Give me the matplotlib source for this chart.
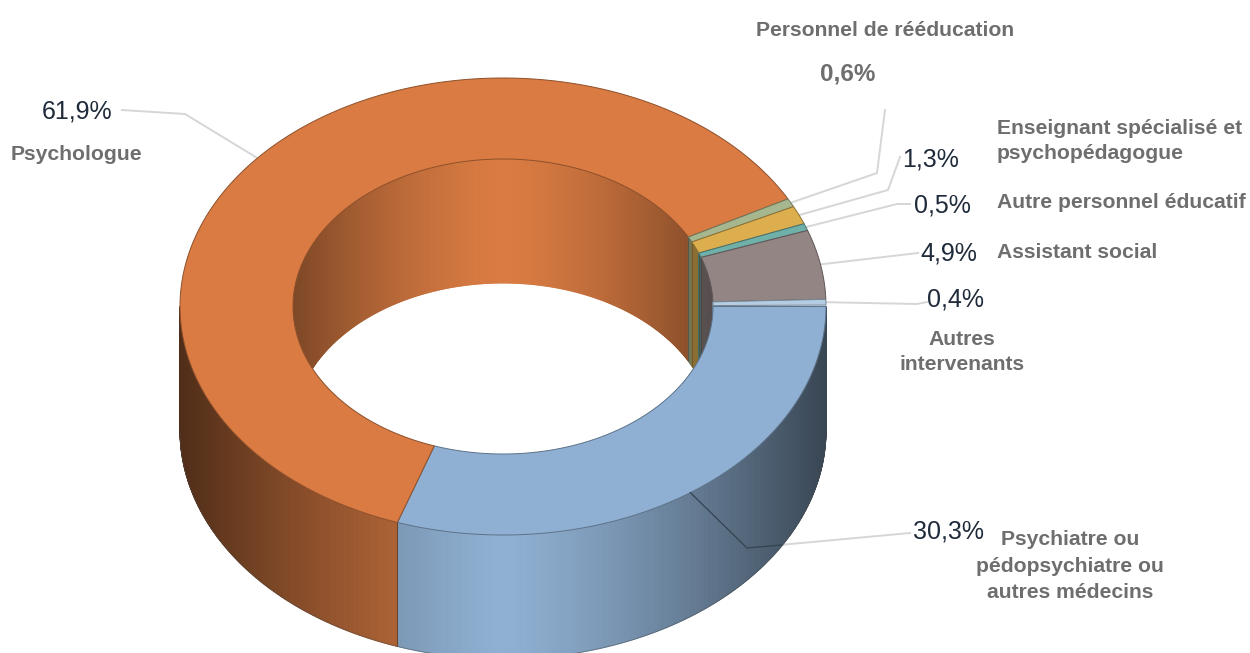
import numpy as np
import matplotlib
matplotlib.use('Agg')
import matplotlib.pyplot as plt
from matplotlib.collections import PolyCollection

# parts du donut, dans le sens horaire depuis 3 h
categories = ['Psychiatre ou\npédopsychiatre ou\nautres médecins', 'Psychologue',
              'Personnel de rééducation', 'Enseignant spécialisé et\npsychopédagogue',
              'Autre personnel éducatif', 'Assistant social', 'Autres\nintervenants']
values = [30.3, 61.9, 0.6, 1.3, 0.5, 4.9, 0.4]
value_labels = ['30,3%', '61,9%', '0,6%', '1,3%', '0,5%', '4,9%', '0,4%']
colors = ['#8fb0d2', '#d97b42', '#a6b78f', '#dcae4e', '#6fb0a8', '#928584', '#b4cde2']

# geometrie de l'ellipse, en pixels
CX, CY = 503, 306.5
RX, RY = 323, 228.5
IRX, IRY = 210, 147.5
DEPTH = 124

fig = plt.figure(figsize=(12.5, 6.53), dpi=100)
ax = fig.add_axes([0, 0, 1, 1])
ax.set_xlim(0, 1250)
ax.set_ylim(653, 0)
ax.axis('off')
plt.rcParams['font.family'] = ['Liberation Sans', 'DejaVu Sans']

# angles de chaque part (negatifs = sens horaire)
edges = -np.cumsum([0] + values) * 3.6
mids = (edges[:-1] + edges[1:]) / 2


def point(angle, rx, ry):
    t = np.radians(angle)
    return CX + rx * np.cos(t), CY - ry * np.sin(t)


def shade(hex_color, factor):
    return np.clip(np.array(matplotlib.colors.to_rgb(hex_color)) * factor, 0, 1)


def wall(a0, a1, rx, ry, color, power, amount, gain=1.0, z=2):
    # paroi dessinee en fines bandes verticales pour le degrade
    if a1 <= a0:
        return
    n = max(2, int((a1 - a0) * 3))
    angles = np.linspace(a0, a1, n + 1)
    x, y = point(angles, rx, ry)
    quads, cols = [], []
    for i in range(n):
        quads.append([(x[i], y[i]), (x[i + 1], y[i + 1]),
                      (x[i + 1], y[i + 1] + DEPTH), (x[i], y[i] + DEPTH)])
        d = abs((x[i] + x[i + 1]) / 2 - CX) / rx
        cols.append(shade(color, gain * (1 - amount * d ** power)))
    ax.add_collection(PolyCollection(quads, facecolors=cols, edgecolors=cols,
                                     linewidths=0.7, zorder=z))
    for ang in (a0, a1):
        px, py = point(ang, rx, ry)
        if 1 < ang % 360 < 359 and abs(ang % 360 - 180) > 1:
            ax.plot([px, px], [py, py + DEPTH], color=shade(color, 0.5), lw=0.6, zorder=z + 0.1)


# lignes de rappel grises : coude puis position de l'etiquette
LEADER = '#d6d6d6'
leader_paths = {
    1: [(185, 114), (122, 110)],
    2: [(877, 173), (885, 110)],
    3: [(888, 190), (900, 157)],
    4: [(897, 204), (910, 204)],
    5: [(918, 253)],
    6: [(917, 304), (927, 302)],
}
for i, path in leader_paths.items():
    pts = [point(mids[i], RX, RY)] + path
    ax.plot(*zip(*pts), color=LEADER, lw=1.4, zorder=1, solid_joinstyle='miter')

# parois interieures (moitie haute du trou)
for i in range(len(values)):
    lo, hi = edges[i + 1], edges[i]
    # on ramene la part dans 0..180
    for shift in (0, 360):
        a0, a1 = max(lo + shift, 0), min(hi + shift, 180)
        wall(a0, a1, IRX, IRY, colors[i], 1.5, 0.42, z=2)

# parois exterieures (moitie basse)
for i in range(len(values)):
    lo, hi = edges[i + 1], edges[i]
    for shift in (0, 360):
        a0, a1 = max(lo + shift, 180), min(hi + shift, 360)
        wall(a0, a1, RX, RY, colors[i], 1.3, 0.6, gain=0.92 if i == 1 else 1.0, z=3)

# contour de la paroi exterieure
t = np.linspace(180, 360, 200)
ox, oy = point(t, RX, RY)
ax.plot(ox, oy + DEPTH, color='#4a4a4a', lw=0.6, alpha=0.5, zorder=3.5)

# faces du dessus
for i in range(len(values)):
    a = np.linspace(edges[i], edges[i + 1], max(3, int(abs(edges[i] - edges[i + 1]) * 2)))
    xo, yo = point(a, RX, RY)
    xi, yi = point(a[::-1], IRX, IRY)
    ax.fill(np.r_[xo, xi], np.r_[yo, yi], facecolor=colors[i],
            edgecolor=shade(colors[i], 0.65), lw=0.7, zorder=4)

# ligne de rappel du psychiatre : grise dehors, sombre sur la paroi
elbow = (747, 548)
ax.plot([elbow[0], 910], [elbow[1], 533], color=LEADER, lw=1.4, zorder=1)
mx, my = point(mids[0], RX, RY)
ax.plot([mx, elbow[0], 781], [my, elbow[1], 545], color='#33434f', lw=0.9, zorder=5)

# etiquettes de valeur
value_pos = [(949, 532), (77, 112), (848, 74), (931, 159), (942, 206), (949, 253), (956, 299)]
for i, (tx, ty) in enumerate(value_pos):
    if i == 2:
        ax.text(tx, ty, value_labels[i], fontsize=17.5, fontweight='bold', color='#6e6e6e',
                ha='center', va='center')
    else:
        ax.text(tx, ty, value_labels[i], fontsize=18, color='#1f2a3a', ha='center', va='center')

# etiquettes de categorie
cat_pos = [(1070, 566, 'center', 1.5), (76, 154, 'center', 1.3), (885, 30, 'center', 1.3),
           (997, 141, 'left', 1.36), (997, 203, 'left', 1.3), (997, 252, 'left', 1.3),
           (962, 352, 'center', 1.36)]
for name, (tx, ty, ha, spacing) in zip(categories, cat_pos):
    ax.text(tx, ty, name, fontsize=15.2, fontweight='bold', color='#6e6e6e', ha=ha, va='center',
            multialignment=ha, linespacing=spacing)

fig.savefig('out.png', dpi=100, facecolor='white')
